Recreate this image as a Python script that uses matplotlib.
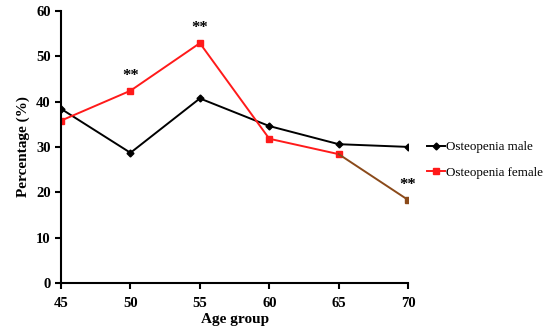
import numpy as np
import matplotlib.pyplot as plt

plt.rcParams['font.family'] = ['Liberation Serif', 'DejaVu Serif']

ages = [45, 50, 55, 60, 65, 70]
male = [38.4, 28.7, 40.7, 34.6, 30.6, 30.0]
female = [35.8, 42.4, 52.9, 31.8, 28.4, 18.3]
star_ages = [50, 55, 70]

fig = plt.figure(figsize=(5.5, 3.32), dpi=100)
ax = fig.add_axes([0.111, 0.148, 0.631, 0.819])

ax.plot(ages, male, color='black', marker='D', markersize=3.5, linewidth=1.4,
        label='Osteopenia male')
ax.plot(ages[:-1], female[:-1], color='#ff1a1a', marker='s', markersize=5,
        linewidth=1.4, label='Osteopenia female')
# last segment drawn brown as in the original
ax.plot(ages[-2:], female[-2:], color='#8b4a1a', linewidth=1.4)
ax.plot(ages[-1], female[-1], color='#8b4a1a', marker='s', markersize=5)

for a in star_ages:
    v = female[ages.index(a)]
    ax.text(a, v + 1.5, '**', ha='center', va='bottom', fontsize=12, fontweight='bold')

ax.set_xlim(45, 70)
ax.set_ylim(0, 60)
ax.set_xticks(ages)
ax.set_yticks(np.arange(0, 61, 10))
for s in ['top', 'right']:
    ax.spines[s].set_visible(False)
for s in ['left', 'bottom']:
    ax.spines[s].set_linewidth(1.5)
ax.tick_params(direction='out', width=1.5, length=4, labelsize=10.5)
for lab in ax.get_xticklabels() + ax.get_yticklabels():
    lab.set_fontweight('bold')
ax.xaxis.set_tick_params(pad=6)
ax.set_xlabel('Age group', fontsize=11, fontweight='bold', labelpad=2)
ax.set_ylabel('Percentage (%)', fontsize=11, fontweight='bold')

fig.legend(loc='upper left', bbox_to_anchor=(0.755, 0.61), frameon=False,
           fontsize=9.4, handlelength=1.4, handletextpad=0.05, labelspacing=1.0)

fig.savefig('out.png', dpi=100)
